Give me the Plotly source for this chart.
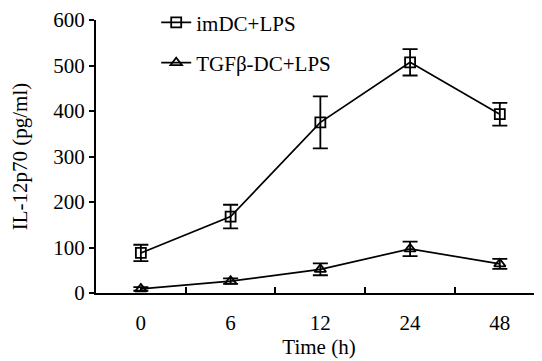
import plotly.graph_objects as go

times = ["0", "6", "12", "24", "48"]
imdc = [88, 168, 375, 507, 393]
imdc_err = [18, 26, 57, 29, 25]
tgf = [9, 26, 52, 97, 64]
tgf_err = [4, 6, 13, 16, 11]

FONT = "Liberation Serif"

fig = go.Figure()
fig.add_trace(go.Scatter(
    x=times, y=imdc, name="imDC+LPS", legendgroup="a",
    mode="lines+markers",
    line=dict(color="black", width=1.7),
    marker=dict(symbol="square-open", size=10, color="black", line=dict(width=1.8)),
    error_y=dict(type="data", array=imdc_err, color="black", thickness=1.8, width=7.5),
))
fig.add_trace(go.Scatter(
    x=times, y=tgf, name="TGFβ-DC+LPS", legendgroup="b",
    mode="lines+markers",
    line=dict(color="black", width=1.7),
    marker=dict(symbol="triangle-up-open", size=10, color="black", line=dict(width=1.8)),
    error_y=dict(type="data", array=tgf_err, color="black", thickness=1.8, width=7.5),
))

fig.update_layout(
    width=534, height=353,
    margin=dict(l=88, r=0, t=12, b=68, autoexpand=False),
    plot_bgcolor="white", paper_bgcolor="white",
    font=dict(family=FONT, size=21, color="black"),
    showlegend=True,
    legend=dict(x=0.135, y=1.065, xanchor="left", yanchor="top",
                bgcolor="rgba(0,0,0,0)", tracegroupgap=10,
                font=dict(family=FONT, size=21)),
    xaxis=dict(
        type="category", range=[-0.5, 4.47], automargin=False,
        showline=True, linecolor="black", linewidth=2,
        ticks="inside", tickson="boundaries", ticklen=6, tickwidth=2, tickcolor="black",
        showgrid=False, zeroline=False, ticklabelstandoff=10,
        title=dict(text="Time (h)", standoff=4, font=dict(size=21)),
        tickfont=dict(size=21),
    ),
    yaxis=dict(
        range=[0, 600], dtick=100, automargin=False,
        showline=True, linecolor="black", linewidth=2,
        ticks="outside", ticklen=5, tickwidth=2, tickcolor="black",
        showgrid=False, zeroline=False,
        title=dict(text="IL-12p70 (pg/ml)", standoff=22, font=dict(size=21)),
        tickfont=dict(size=21),
    ),
)

fig.write_html("out.html")
